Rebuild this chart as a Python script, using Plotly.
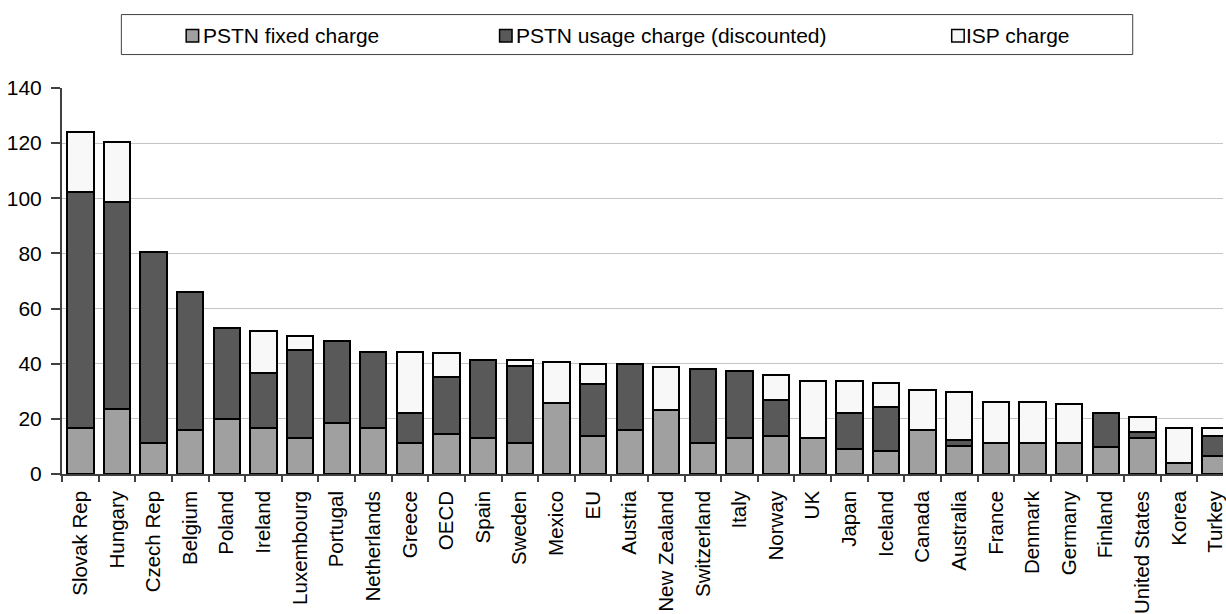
import plotly.graph_objects as go

# Monthly internet access charges by country (stacked components)
countries = [
    "Slovak Rep", "Hungary", "Czech Rep", "Belgium", "Poland", "Ireland",
    "Luxembourg", "Portugal", "Netherlands", "Greece", "OECD", "Spain",
    "Sweden", "Mexico", "EU", "Austria", "New Zealand", "Switzerland",
    "Italy", "Norway", "UK", "Japan", "Iceland", "Canada", "Australia",
    "France", "Denmark", "Germany", "Finland", "United States", "Korea",
    "Turkey",
]

pstn_fixed = [
    16.8, 23.6, 11.3, 16.1, 19.8, 16.8, 13.0, 18.4, 16.8, 11.3, 14.6, 12.9,
    11.4, 25.8, 13.7, 16.1, 23.1, 11.4, 12.9, 13.7, 12.9, 9.1, 8.4, 16.0,
    10.0, 11.4, 11.4, 11.4, 9.9, 12.9, 3.9, 6.7,
]

pstn_usage = [
    85.6, 75.1, 69.1, 49.9, 33.1, 20.0, 32.1, 29.8, 27.5, 10.7, 20.6, 28.4,
    27.7, None, 19.1, 23.8, None, 26.8, 24.6, 13.2, None, 13.1, 16.0, None,
    2.3, None, None, None, 12.3, 2.4, None, 7.0,
]

isp_charge = [
    21.6, 21.6, None, None, None, 15.2, 4.8, None, None, 22.3, 8.6, None,
    2.2, 14.9, 7.1, None, 15.8, None, None, 9.0, 20.8, 11.5, 8.5, 14.5,
    17.5, 14.6, 14.6, 14.0, None, 5.4, 12.9, 3.1,
]

series = [
    ("PSTN fixed charge", pstn_fixed, "#a0a0a0"),
    ("PSTN usage charge (discounted)", pstn_usage, "#595959"),
    ("ISP charge", isp_charge, "#f8f8f8"),
]

FONT = "Arial, Liberation Sans, sans-serif"
W, H = 1226, 614
ML, MR, MT, MB = 62, 0, 88, 137

fig = go.Figure()
for name, vals, color in series:
    fig.add_trace(go.Bar(
        x=countries, y=vals, name=name,
        marker=dict(color=color, line=dict(color="#000000", width=2)),
        showlegend=False,
    ))

# pixel -> paper helpers for the hand-built legend
pw, ph = W - ML - MR, H - MT - MB
def px(x):
    return (x - ML) / pw
def py(y):
    return (H - MB - y) / ph

shapes = [dict(type="rect", xref="paper", yref="paper",
               x0=px(121.5), x1=px(1135.5), y0=py(54.3), y1=py(14),
               line=dict(color="#404040", width=1), fillcolor="white", layer="above")]
annotations = []
legend_pos = [(186.5, 202.0), (500.7, 516.5), (954.0, 967.5)]
for (name, _, color), (sx, tx) in zip(series, legend_pos):
    shapes.append(dict(type="rect", xref="paper", yref="paper",
                       x0=px(sx), x1=px(sx + 12.5), y0=py(41.7), y1=py(29.0),
                       line=dict(color="#000000", width=1.5), fillcolor=color,
                       layer="above"))
    annotations.append(dict(text=name, xref="paper", yref="paper",
                            x=px(tx), y=py(35.0), xanchor="left", yanchor="middle",
                            showarrow=False, borderpad=0,
                            font=dict(family=FONT, size=21, color="#000000")))

fig.update_layout(
    barmode="stack",
    bargap=0.28,
    width=W, height=H,
    margin=dict(l=ML, r=MR, t=MT, b=MB, pad=0),
    paper_bgcolor="white",
    plot_bgcolor="white",
    font=dict(family=FONT, size=20, color="#000000"),
    shapes=shapes,
    annotations=annotations,
    showlegend=False,
)

fig.update_xaxes(
    type="category",
    range=[-0.5, 31.2],
    tickangle=-90,
    tickson="boundaries",
    ticks="outside",
    ticklen=6,
    tickcolor="#404040",
    tickwidth=1.5,
    showline=True,
    linecolor="#404040",
    linewidth=1.5,
    showgrid=False,
    ticklabelstandoff=7,
    tickfont=dict(family=FONT, size=20.5, color="#000000"),
)

fig.update_yaxes(
    range=[0, 140],
    dtick=20,
    ticks="outside",
    ticklen=9,
    tickcolor="#404040",
    tickwidth=1.5,
    showline=True,
    linecolor="#404040",
    linewidth=2,
    showgrid=True,
    gridcolor="#c4c4c4",
    gridwidth=1,
    zeroline=False,
    ticklabelstandoff=5,
    tickfont=dict(family=FONT, size=21, color="#000000"),
)

fig.write_html("out.html")
